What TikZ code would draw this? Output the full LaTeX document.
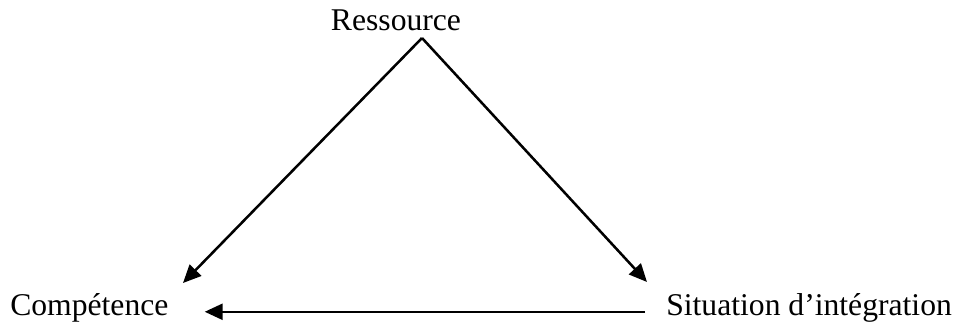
\documentclass[tikz,border=0pt]{standalone}
\usepackage{fontspec}
\setmainfont{Liberation Serif}
\usepackage{tikz}
\usetikzlibrary{arrows.meta,positioning,calc}

\begin{document}
\begin{tikzpicture}[
        x=0.025cm, y=-0.025cm,
        label/.style={inner sep=0pt, font=\fontsize{22.5}{27}\selectfont},
        arrow/.style={-{Triangle[length=0.45cm, width=0.4cm]}, line width=1.8pt}
    ]
        \useasboundingbox (0,0) rectangle (959,322);

        \node[label, anchor=base] (res) at (396,30) {Ressource};
        \node[label, anchor=base west] (comp) at (10,315) {Compétence};
        \node[label, anchor=base west] (sit) at (666,315) {Situation d’intégration};

        \coordinate (apex) at (422,38);
        \coordinate (compTip) at (183,283);
        \coordinate (sitTip) at (647,282);

        \draw[arrow] (apex) -- (compTip);
        \draw[arrow] (apex) -- (sitTip);
        \draw[arrow, shorten <=0.525cm, shorten >=0.9cm] (sit.mid west) -- (comp.mid east);
    \end{tikzpicture}
\end{document}
